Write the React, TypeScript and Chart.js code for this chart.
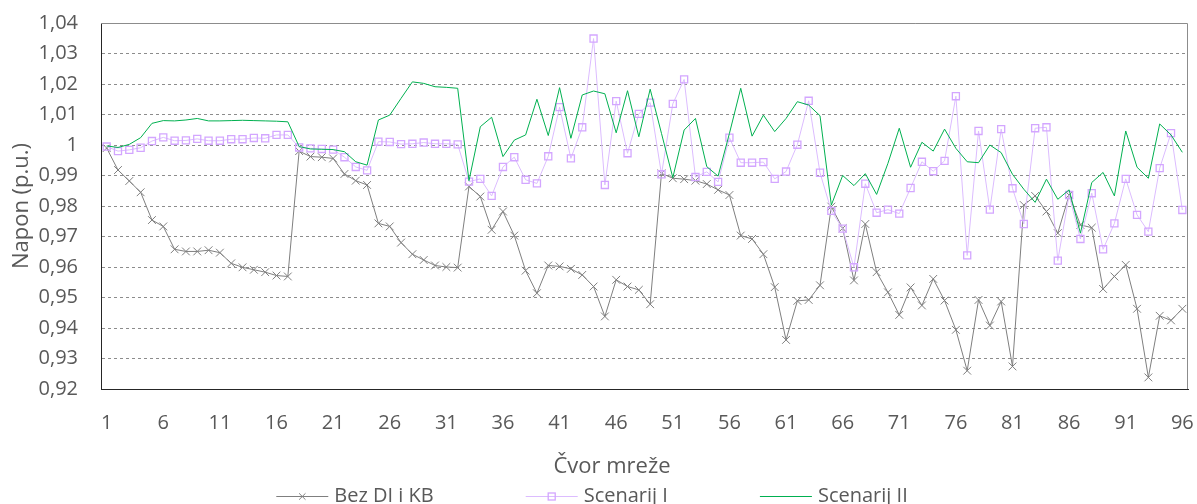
import React, { useEffect, useRef } from 'react';
import { Chart, registerables } from 'chart.js';

Chart.register(...registerables);

// ---------- data ----------
const nodes: string[] = [
  '1', '2', '3', '4', '5', '6', '7', '8', '9', '10', '11', '12', '13', '14', '15', '16',
  '17', '18', '19', '20', '21', '22', '23', '24', '25', '26', '27', '28', '29', '30', '31', '32',
  '33', '34', '35', '36', '37', '38', '39', '40', '41', '42', '43', '44', '45', '46', '47', '48',
  '49', '50', '51', '52', '53', '54', '55', '56', '57', '58', '59', '60', '61', '62', '63', '64',
  '65', '66', '67', '68', '69', '70', '71', '72', '73', '74', '75', '76', '77', '78', '79', '80',
  '81', '82', '83', '84', '85', '86', '87', '88', '89', '90', '91', '92', '93', '94', '95', '96',
];

const bezDiKb: number[] = [
  0.9990, 0.9918, 0.9882, 0.9845, 0.9754, 0.9733, 0.9658, 0.9651, 0.9651, 0.9655, 0.9647, 0.9612, 0.9599, 0.9591, 0.9583, 0.9572,
  0.9569, 0.9980, 0.9962, 0.9960, 0.9956, 0.9905, 0.9883, 0.9869, 0.9743, 0.9733, 0.9680, 0.9642, 0.9623, 0.9605, 0.9600, 0.9598,
  0.9864, 0.9831, 0.9722, 0.9782, 0.9703, 0.9588, 0.9514, 0.9605, 0.9602, 0.9594, 0.9574, 0.9536, 0.9438, 0.9558, 0.9536, 0.9525,
  0.9478, 0.9907, 0.9891, 0.9888, 0.9883, 0.9872, 0.9853, 0.9836, 0.9703, 0.9692, 0.9642, 0.9534, 0.9361, 0.9489, 0.9492, 0.9540,
  0.9798, 0.9727, 0.9556, 0.9741, 0.9583, 0.9517, 0.9443, 0.9533, 0.9474, 0.9561, 0.9490, 0.9394, 0.9260, 0.9492, 0.9408, 0.9487,
  0.9274, 0.9803, 0.9833, 0.9782, 0.9711, 0.9836, 0.9738, 0.9729, 0.9528, 0.9569, 0.9607, 0.9463, 0.9238, 0.9440, 0.9425, 0.9463,
];

const scenarijI: number[] = [
  0.9995, 0.9980, 0.9984, 0.9991, 1.0013, 1.0025, 1.0014, 1.0015, 1.0020, 1.0014, 1.0014, 1.0019, 1.0019, 1.0023, 1.0022, 1.0033,
  1.0033, 0.9992, 0.9989, 0.9987, 0.9985, 0.9960, 0.9928, 0.9917, 1.0011, 1.0010, 1.0003, 1.0004, 1.0008, 1.0004, 1.0004, 1.0002,
  0.9880, 0.9889, 0.9833, 0.9928, 0.9960, 0.9886, 0.9874, 0.9963, 1.0124, 0.9956, 1.0058, 1.0349, 0.9869, 1.0144, 0.9973, 1.0102,
  1.0139, 0.9904, 1.0135, 1.0215, 0.9895, 0.9912, 0.9879, 1.0024, 0.9942, 0.9942, 0.9944, 0.9889, 0.9913, 1.0001, 1.0145, 0.9909,
  0.9784, 0.9726, 0.9599, 0.9873, 0.9778, 0.9788, 0.9775, 0.9859, 0.9945, 0.9914, 0.9948, 1.0160, 0.9638, 1.0046, 0.9788, 1.0052,
  0.9858, 0.9741, 1.0055, 1.0058, 0.9621, 0.9836, 0.9692, 0.9842, 0.9658, 0.9743, 0.9889, 0.9771, 0.9716, 0.9924, 1.0039, 0.9787,
];

const scenarijII: number[] = [
  0.9997, 0.9992, 1.0002, 1.0024, 1.0071, 1.0080, 1.0079, 1.0082, 1.0087, 1.0079, 1.0079, 1.0080, 1.0081, 1.0080, 1.0079, 1.0078,
  1.0076, 0.9995, 0.9987, 0.9986, 0.9985, 0.9978, 0.9945, 0.9934, 1.0082, 1.0098, 1.0153, 1.0207, 1.0202, 1.0191, 1.0189, 1.0186,
  0.9883, 1.0060, 1.0091, 0.9962, 1.0016, 1.0033, 1.0150, 1.0031, 1.0188, 1.0022, 1.0164, 1.0177, 1.0168, 1.0040, 1.0178, 1.0027,
  1.0183, 1.0038, 0.9893, 1.0049, 1.0087, 0.9929, 0.9898, 1.0038, 1.0186, 1.0029, 1.0098, 1.0044, 1.0087, 1.0142, 1.0131, 1.0096,
  0.9803, 0.9900, 0.9867, 0.9906, 0.9838, 0.9940, 1.0055, 0.9927, 1.0009, 0.9980, 1.0052, 0.9989, 0.9945, 0.9942, 1.0000, 0.9975,
  0.9904, 0.9855, 0.9812, 0.9888, 0.9822, 0.9853, 0.9711, 0.9877, 0.9910, 0.9833, 1.0046, 0.9927, 0.9891, 1.0069, 1.0033, 0.9976,
];

const seriesLabels: string[] = ['Bez DI i KB', 'Scenarij I', 'Scenarij II'];
const xTitle = 'Čvor mreže';
const yTitle = 'Napon (p.u.)';
const yMin = 0.92;
const yMax = 1.04;
const yStep = 0.01;
const xLabelEvery = 5;

// ---------- style ----------
const FONT = "'Open Sans', 'Noto Sans', sans-serif";
const TEXT_COLOR = '#595959';
const GRAY = '#7f7f7f';
const PURPLE_LINE = '#dcbcff';
const PURPLE_MARK = '#d3a6ff';
const GREEN = '#00b050';

const fmtY = (v: number) => (Math.round(v * 100) / 100).toString().replace('.', ',');

const framePlugin = {
  id: 'frameAndLegend',
  afterDraw(chart: any) {
    const { ctx, chartArea } = chart;
    ctx.save();
    // top and right frame of plot area
    ctx.strokeStyle = '#8c8c8c';
    ctx.lineWidth = 1;
    ctx.setLineDash([]);
    const t = Math.round(chartArea.top) + 0.5;
    const r = Math.round(chartArea.right) - 0.5;
    ctx.beginPath();
    ctx.moveTo(Math.round(chartArea.left), t);
    ctx.lineTo(r, t);
    ctx.lineTo(r, Math.round(chartArea.bottom));
    ctx.stroke();

    // x axis title
    ctx.fillStyle = TEXT_COLOR;
    ctx.font = `22px ${FONT}`;
    ctx.textAlign = 'center';
    ctx.textBaseline = 'alphabetic';
    ctx.fillText(xTitle, 612, 473);

    // legend
    const LINE_LEN = 52;
    const GAP = 6;
    const SPACING = 92;
    const LINE_Y = 496.5;
    const TEXT_Y = 502;
    ctx.font = `20px ${FONT}`;
    ctx.textAlign = 'left';
    const dss = chart.data.datasets;
    const widths = dss.map((ds: any) => LINE_LEN + GAP + ctx.measureText(ds.label).width);
    const total = widths.reduce((a: number, b: number) => a + b, 0) + SPACING * (dss.length - 1);
    let x = 592 - total / 2;
    dss.forEach((ds: any, i: number) => {
      ctx.strokeStyle = ds.borderColor;
      ctx.lineWidth = 1;
      ctx.beginPath();
      ctx.moveTo(x, LINE_Y);
      ctx.lineTo(x + LINE_LEN, LINE_Y);
      ctx.stroke();
      const cx = x + LINE_LEN / 2;
      if (ds.pointStyle === 'crossRot') {
        const d = 3.2;
        ctx.strokeStyle = ds.pointBorderColor;
        ctx.beginPath();
        ctx.moveTo(cx - d, LINE_Y - d);
        ctx.lineTo(cx + d, LINE_Y + d);
        ctx.moveTo(cx + d, LINE_Y - d);
        ctx.lineTo(cx - d, LINE_Y + d);
        ctx.stroke();
      } else if (ds.pointStyle === 'rect') {
        const s = 3.5;
        ctx.strokeStyle = ds.pointBorderColor;
        ctx.lineWidth = 1.3;
        ctx.strokeRect(cx - s, LINE_Y - s, 2 * s, 2 * s);
      }
      ctx.fillStyle = TEXT_COLOR;
      ctx.fillText(ds.label, x + LINE_LEN + GAP, TEXT_Y);
      x += widths[i] + SPACING;
    });
    ctx.restore();
  },
};

export default function App() {
  const canvasRef = useRef<HTMLCanvasElement | null>(null);

  useEffect(() => {
    const canvas = canvasRef.current;
    if (!canvas) return;
    const chart = new Chart(canvas, {
      type: 'line',
      data: {
        labels: nodes,
        datasets: [
          {
            label: seriesLabels[0],
            data: bezDiKb,
            borderColor: GRAY,
            borderWidth: 1,
            pointStyle: 'crossRot',
            pointRadius: 5.5,
            pointBorderColor: GRAY,
            pointBackgroundColor: 'rgba(0,0,0,0)',
            pointBorderWidth: 1,
            tension: 0,
            order: 2,
          },
          {
            label: seriesLabels[1],
            data: scenarijI,
            borderColor: PURPLE_LINE,
            borderWidth: 1,
            pointStyle: 'rect',
            pointRadius: 5,
            pointBorderColor: PURPLE_MARK,
            pointBackgroundColor: 'rgba(0,0,0,0)',
            pointBorderWidth: 1.3,
            tension: 0,
            order: 1,
          },
          {
            label: seriesLabels[2],
            data: scenarijII,
            borderColor: GREEN,
            borderWidth: 1,
            pointRadius: 0,
            tension: 0,
            order: 0,
          },
        ],
      },
      options: {
        animation: false,
        responsive: false,
        events: [],
        layout: { padding: { top: 23, right: 9, left: 0, bottom: 0 } },
        plugins: {
          legend: { display: false },
          tooltip: { enabled: false },
        },
        scales: {
          x: {
            type: 'category',
            offset: true,
            grid: { display: false, drawTicks: false },
            border: { display: true, color: '#262626', width: 1 },
            ticks: {
              autoSkip: false,
              maxRotation: 0,
              minRotation: 0,
              padding: 22,
              color: TEXT_COLOR,
              font: { family: FONT, size: 20 },
              callback: function (this: any, val: any, idx: number) {
                return idx % xLabelEvery === 0 ? this.getLabelForValue(val) : '';
              },
            },
            afterFit: (s: any) => {
              s.height = 115;
              s.paddingLeft = 0;
              s.paddingRight = 0;
            },
          },
          y: {
            min: yMin,
            max: yMax,
            grid: { color: '#8c8c8c', lineWidth: 1, drawTicks: false },
            border: { display: true, color: '#262626', width: 1, dash: [3, 3] },
            ticks: {
              stepSize: yStep,
              padding: 23,
              color: TEXT_COLOR,
              font: { family: FONT, size: 20 },
              callback: (v: any) => fmtY(Number(v)),
            },
            title: {
              display: true,
              text: yTitle,
              color: TEXT_COLOR,
              font: { family: FONT, size: 22 },
              padding: { top: 9, bottom: 0 },
            },
            afterFit: (s: any) => {
              s.width = 101;
              s.paddingTop = 0;
              s.paddingBottom = 0;
            },
          },
        },
      },
      plugins: [framePlugin],
    });
    return () => chart.destroy();
  }, []);

  return (
    <div style={{ position: 'fixed', left: 0, top: 0, width: 1197, height: 504, background: '#fff' }}>
      <canvas ref={canvasRef} width={1197} height={504} style={{ display: 'block' }} />
    </div>
  );
}
